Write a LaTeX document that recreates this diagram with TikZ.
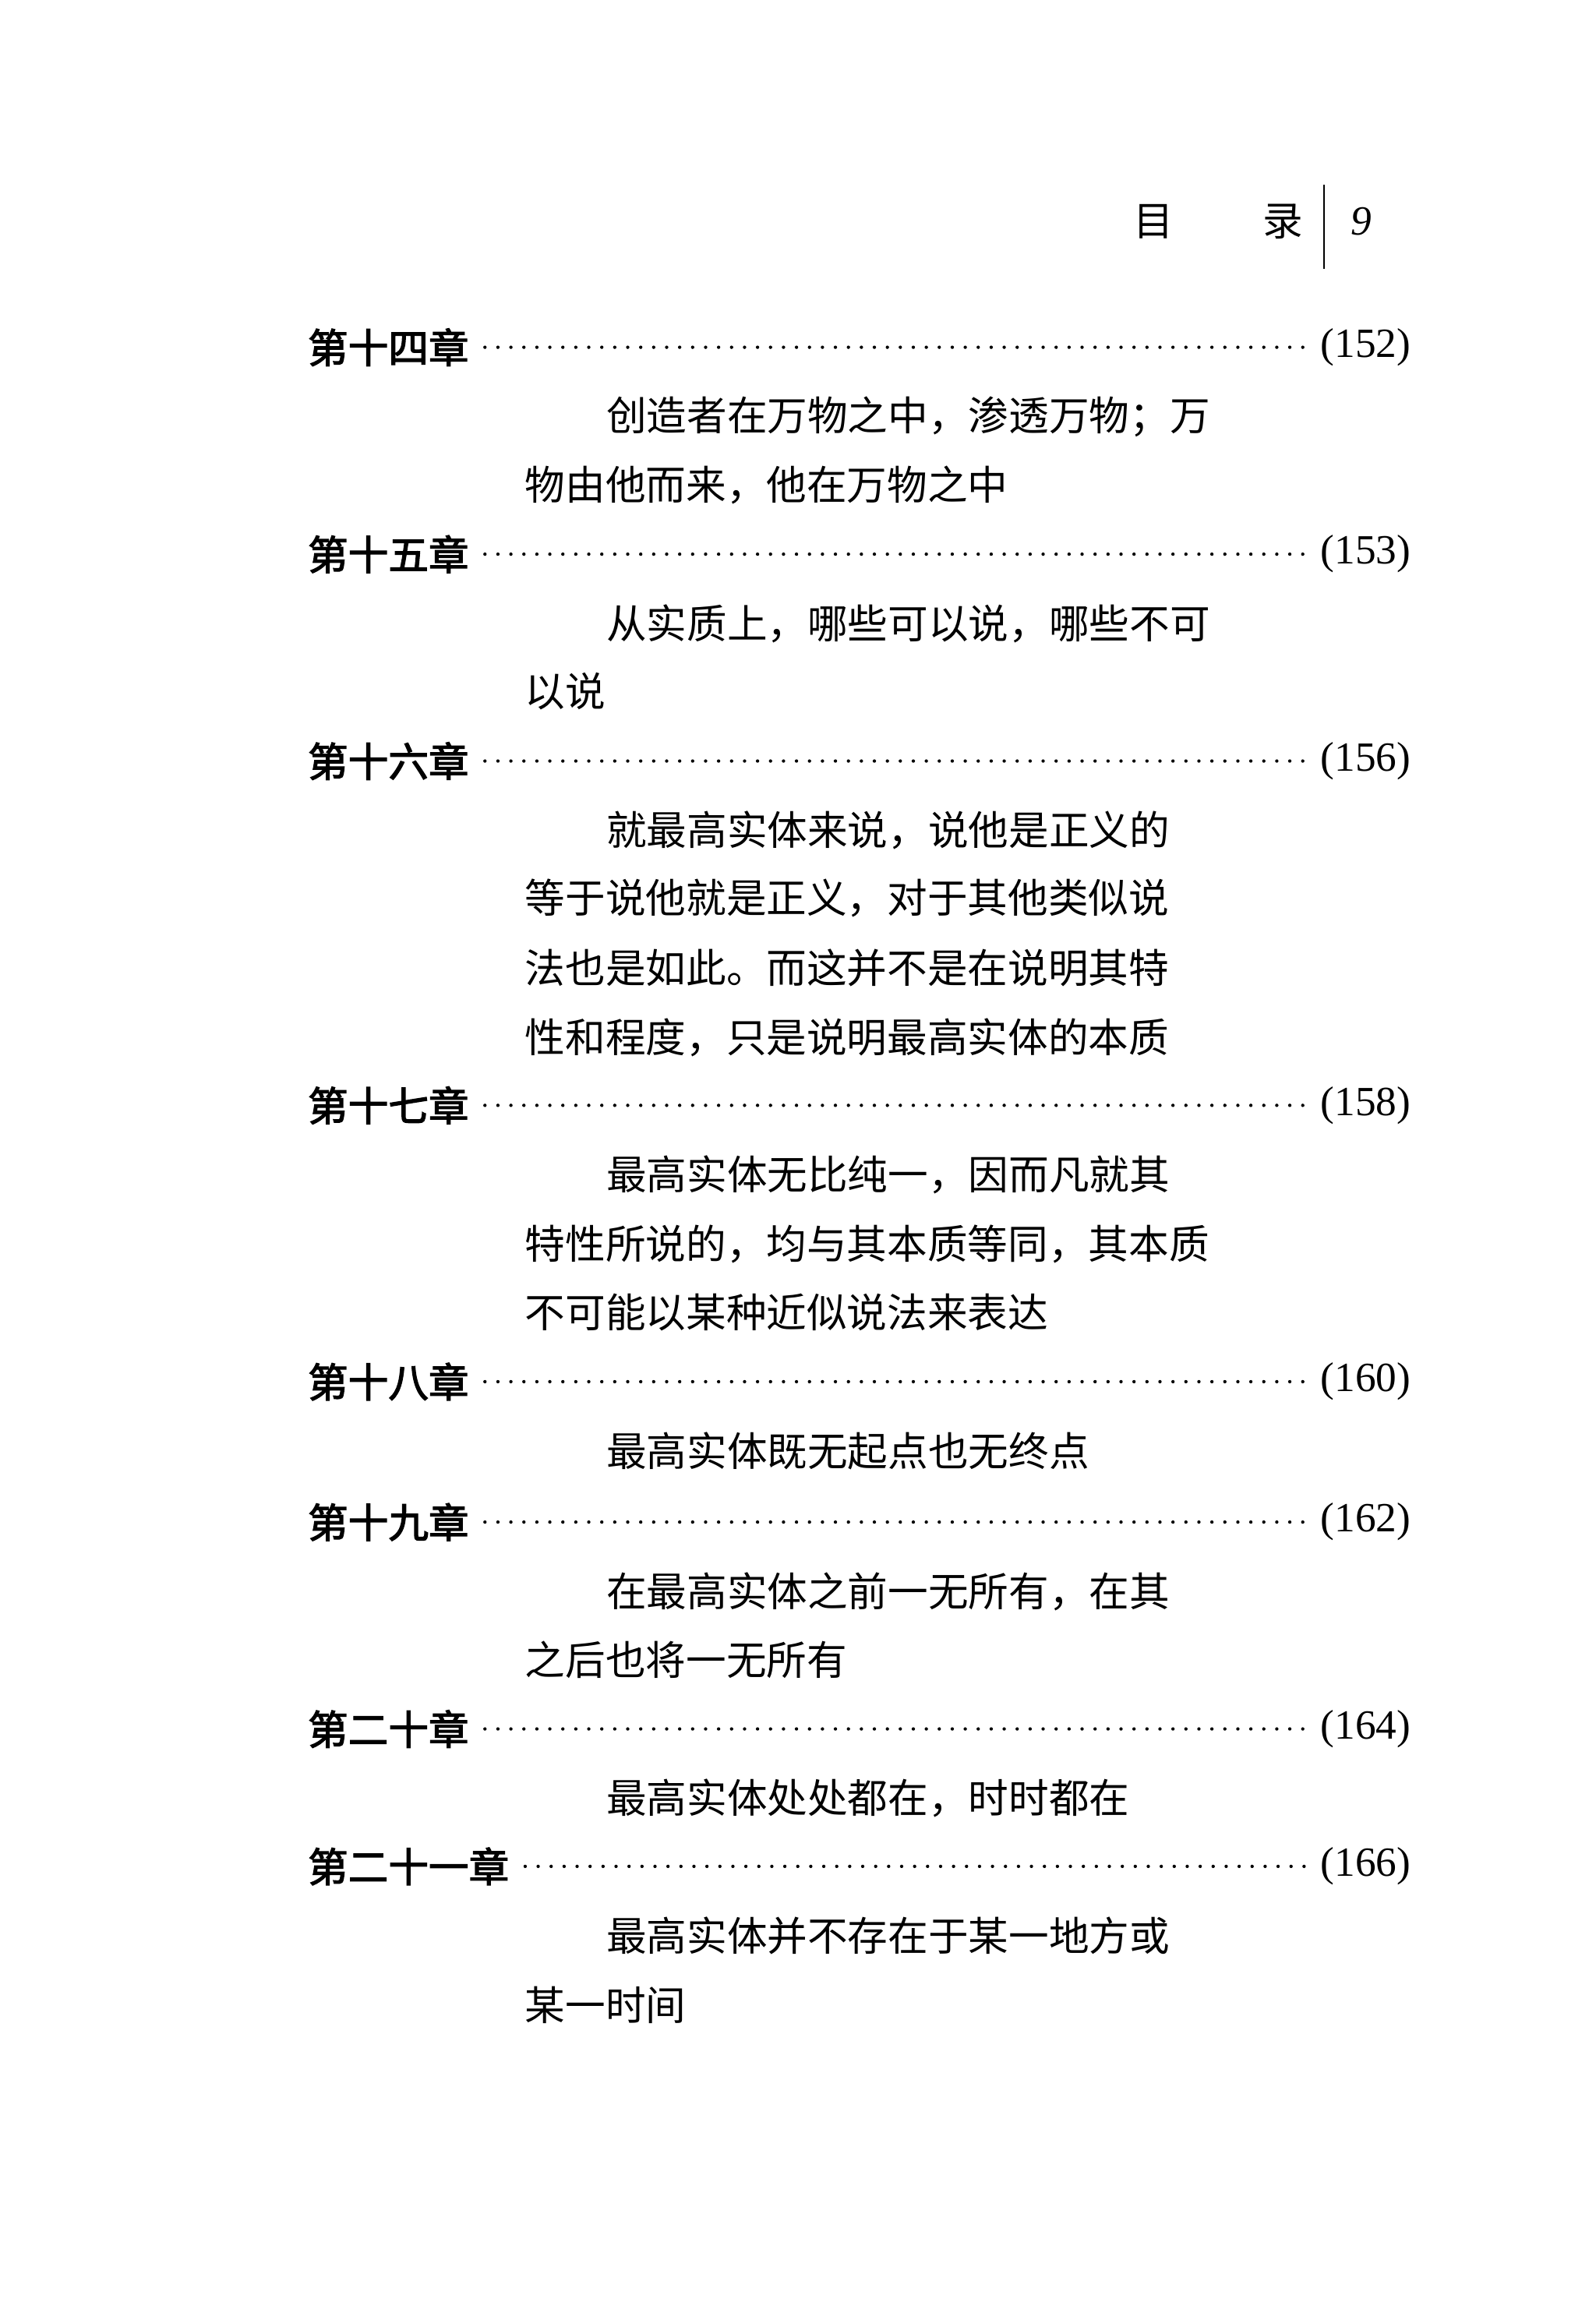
\documentclass[tikz,border=0pt]{standalone}
\usepackage{fontspec}
\newfontfamily\cjk{Noto Sans CJK SC}
\newfontfamily\cjkb[FakeBold=2.5]{Noto Sans CJK SC}
\newfontfamily\num{Liberation Serif}
\begin{document}
\begin{tikzpicture}[x=0.02cm,y=-0.02cm,
  head/.style={anchor=west,inner sep=0,font=\cjkb\fontsize{15.5}{16}\selectfont},
  body/.style={anchor=west,inner sep=0,font=\cjk\fontsize{15.5}{16}\selectfont},
  pg/.style={anchor=east,inner sep=0,font=\num\fontsize{16}{16}\selectfont},
  dots/.style={line width=1.3pt,line cap=round,dash pattern=on 0pt off 5pt}]
\useasboundingbox (0,0) rectangle (1080,1570);
\node[body,anchor=east] (h1) at (882,150) {目\hspace{2.2em}录};
\draw[line width=0.8pt] (896,125) -- (896,182);
\node[anchor=west,inner sep=0,font=\num\itshape\fontsize{16}{16}\selectfont] (h2) at (914,150) {9};
\newcommand\entry[4]{%
  \node[head] (#1) at (208,#2) {#3};
  \node[pg] (#1p) at (955,#2) {(#4)};
  \draw[dots] ([xshift=6pt]#1.east) -- ([xshift=-6pt]#1p.west);}
\entry{c14}{235}{第十四章}{152}
\node[body] (t1) at (410,282) {创造者在万物之中，渗透万物；万};
\node[body] (t2) at (355,328) {物由他而来，他在万物之中};
\entry{c15}{375}{第十五章}{153}
\node[body] (t3) at (410,422) {从实质上，哪些可以说，哪些不可};
\node[body] (t4) at (355,468) {以说};
\entry{c16}{515}{第十六章}{156}
\node[body] (t5) at (410,562) {就最高实体来说，说他是正义的};
\node[body] (t6) at (355,608) {等于说他就是正义，对于其他类似说};
\node[body] (t7) at (355,655) {法也是如此。而这并不是在说明其特};
\node[body] (t8) at (355,702) {性和程度，只是说明最高实体的本质};
\entry{c17}{748}{第十七章}{158}
\node[body] (t9) at (410,795) {最高实体无比纯一，因而凡就其};
\node[body] (t10) at (355,842) {特性所说的，均与其本质等同，其本质};
\node[body] (t11) at (355,888) {不可能以某种近似说法来表达};
\entry{c18}{935}{第十八章}{160}
\node[body] (t12) at (410,982) {最高实体既无起点也无终点};
\entry{c19}{1030}{第十九章}{162}
\node[body] (t13) at (410,1077) {在最高实体之前一无所有，在其};
\node[body] (t14) at (355,1123) {之后也将一无所有};
\entry{c20}{1170}{第二十章}{164}
\node[body] (t15) at (410,1217) {最高实体处处都在，时时都在};
\entry{c21}{1263}{第二十一章}{166}
\node[body] (t16) at (410,1310) {最高实体并不存在于某一地方或};
\node[body] (t17) at (355,1357) {某一时间};
\end{tikzpicture}
\end{document}
